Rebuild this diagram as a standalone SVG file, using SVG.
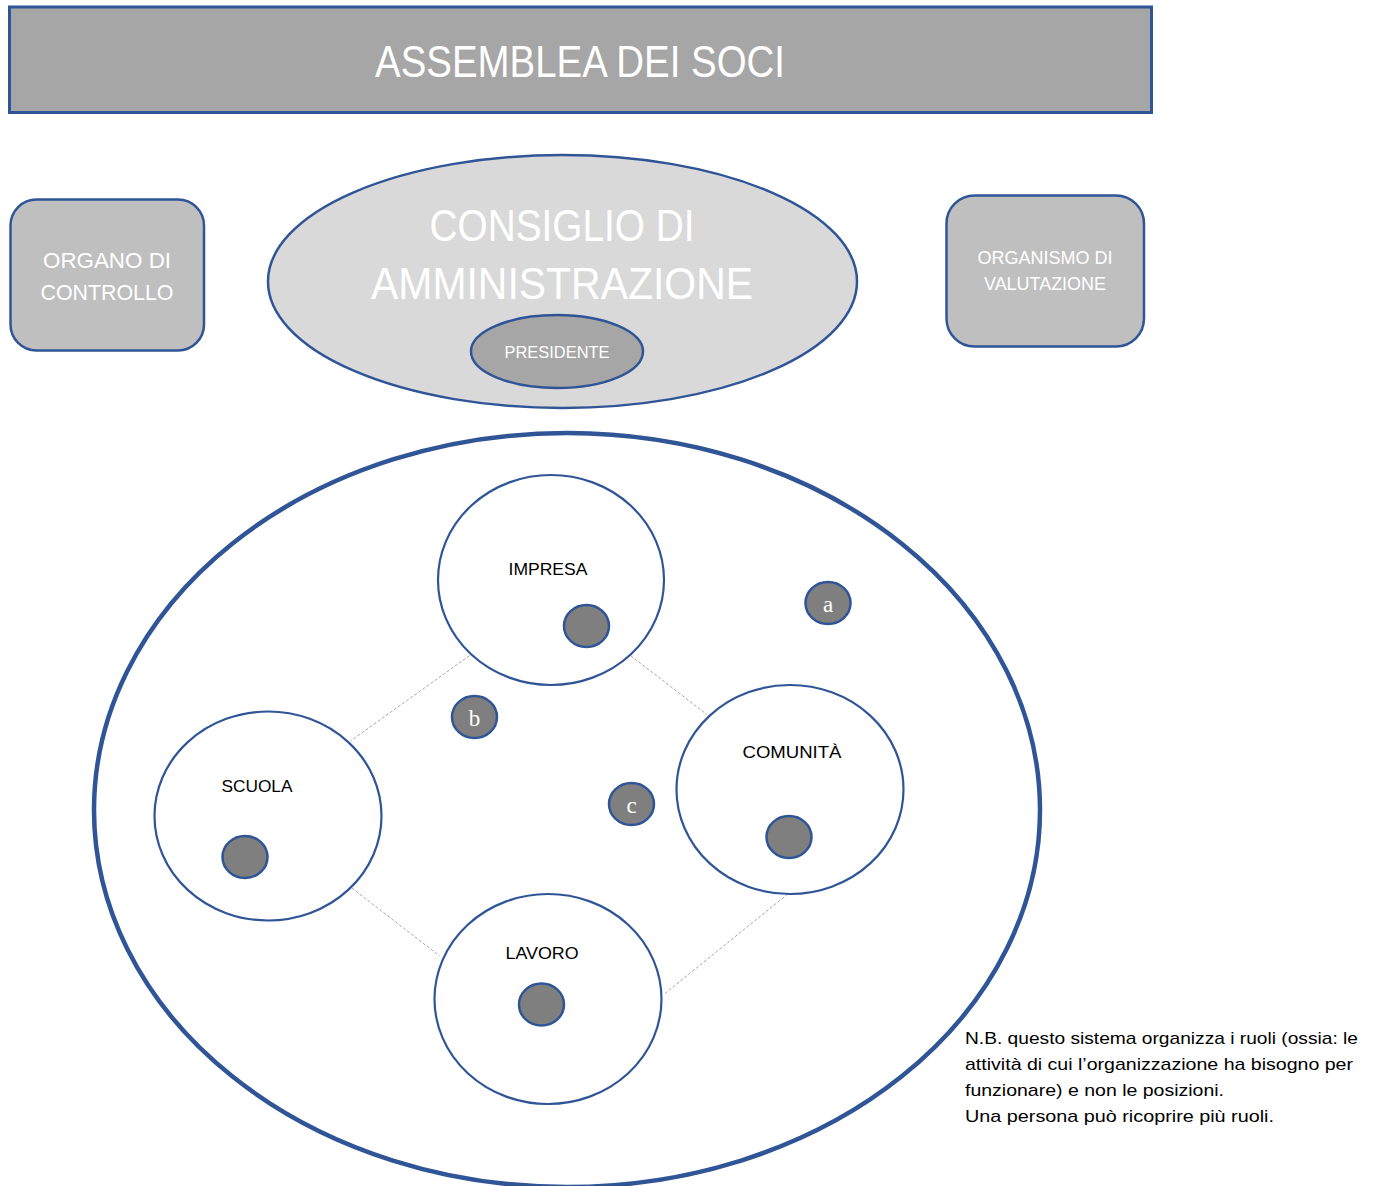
<svg xmlns="http://www.w3.org/2000/svg" width="1376" height="1186" viewBox="0 0 1376 1186">
<style>
.t{font-family:"Liberation Sans",Arial,sans-serif;fill:#fff;text-anchor:middle}
.k{font-family:"Liberation Sans",Arial,sans-serif;fill:#000;text-anchor:middle;font-size:17px}
.n{font-family:"Liberation Sans",Arial,sans-serif;fill:#000;font-size:17px}
.l{font-family:"Liberation Serif","Times New Roman",serif;fill:#fff;text-anchor:middle;font-size:23px}
.ring{fill:#fff;stroke:#2f5597;stroke-width:2.2}
.dot{fill:#7f7f7f;stroke:#2f5597;stroke-width:2.5}
.dash{stroke:#a6a6a6;stroke-width:1;stroke-dasharray:3 2;fill:none}
</style>
<rect width="1376" height="1186" fill="#fff"/>
<g id="assemblea">
<rect x="9.5" y="7" width="1142" height="105.5" fill="#a6a6a6" stroke="#2f5597" stroke-width="3"/>
<text class="t" x="580" y="77" font-size="44" textLength="410" lengthAdjust="spacingAndGlyphs">ASSEMBLEA DEI SOCI</text>
</g>
<g id="organo-controllo">
<rect x="10.5" y="199.5" width="193.5" height="151" rx="26" fill="#bfbfbf" stroke="#2f5597" stroke-width="2.5"/>
<text class="t" x="107" y="268" font-size="22" textLength="128" lengthAdjust="spacingAndGlyphs">ORGANO DI</text>
<text class="t" x="107" y="300" font-size="22" textLength="133" lengthAdjust="spacingAndGlyphs">CONTROLLO</text>
</g>
<g id="cda">
<ellipse cx="562.5" cy="281.5" rx="294.5" ry="126.5" fill="#d9d9d9" stroke="#2f5597" stroke-width="2.5"/>
<text class="t" x="562" y="241" font-size="44" textLength="265" lengthAdjust="spacingAndGlyphs">CONSIGLIO DI</text>
<text class="t" x="562" y="299" font-size="44" textLength="382" lengthAdjust="spacingAndGlyphs">AMMINISTRAZIONE</text>
</g>
<g id="presidente">
<ellipse cx="557" cy="351.5" rx="86" ry="36.5" fill="#a6a6a6" stroke="#2f5597" stroke-width="2.5"/>
<text class="t" x="557" y="358" font-size="17" textLength="105" lengthAdjust="spacingAndGlyphs">PRESIDENTE</text>
</g>
<g id="organismo-valutazione">
<rect x="946.5" y="195.5" width="197.5" height="151" rx="28" fill="#bfbfbf" stroke="#2f5597" stroke-width="2.5"/>
<text class="t" x="1045" y="264" font-size="17.5" textLength="135" lengthAdjust="spacingAndGlyphs">ORGANISMO DI</text>
<text class="t" x="1045" y="290" font-size="17.5" textLength="122" lengthAdjust="spacingAndGlyphs">VALUTAZIONE</text>
</g>
<g id="sistema">
<ellipse cx="567" cy="810" rx="473" ry="377" fill="none" stroke="#2f5597" stroke-width="4.5"/>
</g>
<g id="connectors">
<line class="dash" x1="469.6" y1="655.6" x2="350.5" y2="741"/>
<line class="dash" x1="630.6" y1="655.6" x2="707" y2="714.7"/>
<line class="dash" x1="351.8" y1="888" x2="439.6" y2="956"/>
<line class="dash" x1="787.8" y1="894" x2="664.3" y2="994"/>
</g>
<g id="impresa">
<ellipse class="ring" cx="551" cy="580" rx="113" ry="105"/>
<text class="k" x="548" y="575" textLength="79" lengthAdjust="spacingAndGlyphs">IMPRESA</text>
<ellipse class="dot" cx="586.5" cy="626" rx="22.5" ry="21"/>
</g>
<g id="scuola">
<ellipse class="ring" cx="268" cy="816" rx="113.5" ry="104.5"/>
<text class="k" x="257" y="792" textLength="71" lengthAdjust="spacingAndGlyphs">SCUOLA</text>
<ellipse class="dot" cx="245" cy="857" rx="22.5" ry="21"/>
</g>
<g id="comunita">
<ellipse class="ring" cx="790" cy="789.5" rx="113.5" ry="104.5"/>
<text class="k" x="792" y="758" textLength="99" lengthAdjust="spacingAndGlyphs">COMUNITÀ</text>
<ellipse class="dot" cx="789" cy="837" rx="22.5" ry="21"/>
</g>
<g id="lavoro">
<ellipse class="ring" cx="548" cy="999" rx="113.5" ry="105"/>
<text class="k" x="542" y="959" textLength="73" lengthAdjust="spacingAndGlyphs">LAVORO</text>
<ellipse class="dot" cx="541.5" cy="1004.5" rx="22.5" ry="21"/>
</g>
<g id="a">
<ellipse class="dot" cx="828" cy="603" rx="22.5" ry="21"/>
<text class="l" x="828" y="612">a</text>
</g>
<g id="b">
<ellipse class="dot" cx="474.5" cy="717" rx="22.5" ry="21"/>
<text class="l" x="474.5" y="726">b</text>
</g>
<g id="c">
<ellipse class="dot" cx="631.5" cy="804" rx="22.5" ry="21"/>
<text class="l" x="631.5" y="813">c</text>
</g>
<g id="nota">
<text class="n" x="965" y="1044" textLength="393" lengthAdjust="spacingAndGlyphs">N.B. questo sistema organizza i ruoli (ossia: le</text>
<text class="n" x="965" y="1070" textLength="388" lengthAdjust="spacingAndGlyphs">attività di cui l’organizzazione ha bisogno per</text>
<text class="n" x="965" y="1096" textLength="259" lengthAdjust="spacingAndGlyphs">funzionare) e non le posizioni.</text>
<text class="n" x="965" y="1122" textLength="309" lengthAdjust="spacingAndGlyphs">Una persona può ricoprire più ruoli.</text>
</g>
</svg>
